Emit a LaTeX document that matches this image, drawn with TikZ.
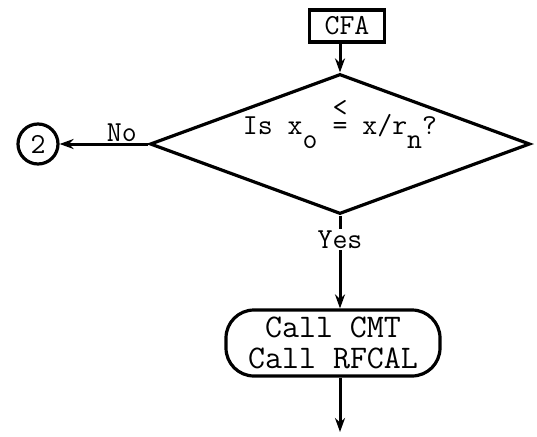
\documentclass[tikz,border=0pt]{standalone}
\usepackage{fontspec}
\usepackage{tikz}
\usetikzlibrary{arrows.meta, positioning, shapes.geometric}
\newcommand{\leqstack}{\ooalign{\raisebox{0.62em}{<}\cr=\cr}}
\newcommand{\lowsub}[1]{\raisebox{-0.5em}{#1}}
\tikzset{
    tt font/.style={font=\ttfamily\fontsize{29}{32}\selectfont},
    box style/.style={draw, rectangle, line width=3.2pt, minimum width=75pt, minimum height=32pt, inner sep=0pt, tt font},
    decision style/.style={draw, diamond, aspect=2.7, line width=3.2pt, minimum width=380pt, minimum height=140pt, inner sep=0pt, tt font},
    process style/.style={draw, rectangle, rounded corners=28pt, line width=3.2pt, minimum width=214pt, minimum height=66pt, inner sep=0pt, align=center,
        font=\ttfamily\fontsize{33}{31}\selectfont\addfontfeatures{LetterSpace=8}},
    connector style/.style={draw, circle, line width=3.2pt, minimum size=40pt, inner sep=0pt, tt font},
    arrow style/.style={-{Stealth[length=14pt, width=10pt]}, line width=3pt},
    label style/.style={tt font, inner sep=1pt},
}

\begin{document}
\begin{tikzpicture}[x=1pt, y=-1pt]
        \useasboundingbox (0,0) rectangle (537,436);

        \node (cfa) [box style] at (347,26) {CFA};
        \node (dec) [decision style] at (340,144) {\raisebox{10pt}[0pt][0pt]{Is x\lowsub{o} \leqstack{} x/r\lowsub{n}?}};
        \node (two) [connector style] at (38,144) {2};
        \node (call) [process style] at (333,343) {Call CMT\\Call RFCAL};
        \coordinate (out) at (340,432);

        % flow lines
        \draw [arrow style] (dec.north |- cfa.south) -- (dec.north);
        \draw [arrow style] (dec.west) -- node[label style, above, pos=0.3] {No} (two.east);
        \draw [line width=3pt] (dec.south) -- ++(0,13);
        \node (yes) [label style] at (dec.south |- 0,240) {Yes};
        \draw [arrow style] (yes.south) -- (yes.south |- call.north);
        \draw [arrow style] (call.south -| yes.south) -- (out -| yes.south);
    \end{tikzpicture}
\end{document}
